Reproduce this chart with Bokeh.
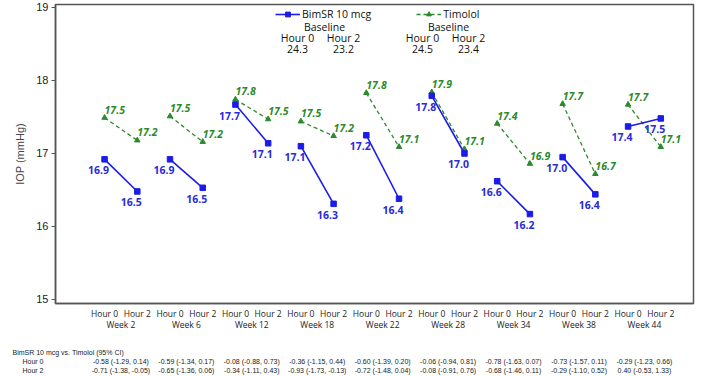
from bokeh.plotting import figure
from bokeh.layouts import column
from bokeh.models import (ColumnDataSource, Range1d, FixedTicker, LinearAxis,
                          CustomJSTickFormatter, Legend, LegendItem, Label)
from bokeh.core.properties import value
from bokeh.embed import file_html
from bokeh.resources import INLINE

weeks = ["Week 2", "Week 6", "Week 12", "Week 18", "Week 22", "Week 28", "Week 34", "Week 38", "Week 44"]
hours = ["Hour 0", "Hour 2"]
bim_h0 = [16.92, 16.92, 17.67, 17.10, 17.25, 17.79, 16.62, 16.95, 17.37]
bim_h2 = [16.48, 16.53, 17.14, 16.31, 16.38, 17.00, 16.17, 16.44, 17.48]
tim_h0 = [17.49, 17.51, 17.74, 17.44, 17.83, 17.84, 17.41, 17.68, 17.67]
tim_h2 = [17.18, 17.16, 17.47, 17.24, 17.09, 17.06, 16.86, 16.72, 17.09]
bim_h0_lbl = ["16.9", "16.9", "17.7", "17.1", "17.2", "17.8", "16.6", "17.0", "17.4"]
bim_h2_lbl = ["16.5", "16.5", "17.1", "16.3", "16.4", "17.0", "16.2", "16.4", "17.5"]
tim_h0_lbl = ["17.5", "17.5", "17.8", "17.5", "17.8", "17.9", "17.4", "17.7", "17.7"]
tim_h2_lbl = ["17.2", "17.2", "17.5", "17.2", "17.1", "17.1", "16.9", "16.7", "17.1"]
baseline_bim = ["24.3", "23.2"]
baseline_tim = ["24.5", "23.4"]
diff_title = "BimSR 10 mcg vs. Timolol (95% CI)"
diff_h0 = ["-0.58 (-1.29, 0.14)", "-0.59 (-1.34, 0.17)", "-0.08 (-0.88, 0.73)", "-0.36 (-1.15, 0.44)",
           "-0.60 (-1.39, 0.20)", "-0.06 (-0.94, 0.81)", "-0.78 (-1.63, 0.07)", "-0.73 (-1.57, 0.11)",
           "-0.29 (-1.23, 0.66)"]
diff_h2 = ["-0.71 (-1.38, -0.05)", "-0.65 (-1.36, 0.06)", "-0.34 (-1.11, 0.43)", "-0.93 (-1.73, -0.13)",
           "-0.72 (-1.48, 0.04)", "-0.08 (-0.91, 0.76)", "-0.68 (-1.46, 0.11)", "-0.29 (-1.10, 0.52)",
           "0.40 (-0.53, 1.33)"]

BLUE = "#1c1ce6"
BLUE_T = "#2a2ad8"
GREEN = "#2b8a2b"
FONT = "Open Sans"

W, H_MAIN, H_TAB = 718, 336, 40
LEFT, RIGHT = 55, 25
X0, X1 = -1.5, 18.0
unit = (W - LEFT - RIGHT) / (X1 - X0)

n = len(weeks)
x0 = [2 * i for i in range(n)]
x1 = [2 * i + 1 for i in range(n)]
xc = [2 * i + 0.5 for i in range(n)]

bim_seg = ColumnDataSource(dict(x0=x0, x1=x1, y0=bim_h0, y1=bim_h2))
tim_seg = ColumnDataSource(dict(x0=x0, x1=x1, y0=tim_h0, y1=tim_h2))
bim_pts = ColumnDataSource(dict(x=x0 + x1, y=bim_h0 + bim_h2, t=bim_h0_lbl + bim_h2_lbl))
tim_pts = ColumnDataSource(dict(x=x0 + x1, y=tim_h0 + tim_h2, t=tim_h0_lbl + tim_h2_lbl))

p = figure(width=W, height=H_MAIN, output_backend="svg", toolbar_location=None,
           x_range=Range1d(X0, X1), y_range=Range1d(14.945, 19.041),
           min_border_left=LEFT, min_border_right=RIGHT, min_border_top=4, min_border_bottom=33)
p.frame_align = False
p.xgrid.visible = False
p.ygrid.visible = False
p.outline_line_color = "#555555"
p.outline_line_width = 1.5
p.background_fill_color = "white"
p.border_fill_color = "white"

tr = p.segment("x0", "y0", "x1", "y1", source=tim_seg, line_color=GREEN, line_width=1.3, line_dash="4 3")
ts = p.scatter("x", "y", source=tim_pts, marker="triangle", size=5.5, color=GREEN)
br = p.segment("x0", "y0", "x1", "y1", source=bim_seg, line_color=BLUE, line_width=1.6)
bs = p.scatter("x", "y", source=bim_pts, marker="square", size=5.5, color=BLUE)

p.text("x", "y", text="t", source=tim_pts, text_color=GREEN, text_font=value(FONT),
       text_font_size="10.5px", text_font_style="bold italic", text_align="left",
       text_baseline="middle", x_offset=0, y_offset=-8)
p.text("x", "y", text="t", source=bim_pts, text_color=BLUE_T, text_font=value(FONT),
       text_font_size="10.5px", text_font_style="bold", text_align="center",
       text_baseline="middle", x_offset=-6, y_offset=11)

# y axis
p.yaxis.ticker = FixedTicker(ticks=[15, 16, 17, 18, 19])
p.yaxis.minor_tick_line_color = None
p.yaxis.major_tick_out = 4
p.yaxis.major_tick_in = 0
p.yaxis.major_tick_line_color = "#555555"
p.yaxis.axis_line_color = "#555555"
p.yaxis.axis_line_width = 1.5
p.yaxis.major_label_text_font = "Liberation Sans"
p.yaxis.major_label_text_font_size = "11px"
p.yaxis.major_label_text_color = "#222222"
p.yaxis.major_label_standoff = 3
p.yaxis.axis_label = "IOP (mmHg)"
p.yaxis.axis_label_text_font = "Liberation Sans"
p.yaxis.axis_label_text_font_size = "11px"
p.yaxis.axis_label_text_font_style = "normal"
p.yaxis.axis_label_text_color = "#444444"
p.yaxis.axis_label_standoff = 7

# x axis: hours
p.xaxis.ticker = FixedTicker(ticks=x0 + x1)
p.xaxis.formatter = CustomJSTickFormatter(args=dict(h=hours), code="return h[Math.round(tick) % 2];")
p.xaxis.major_tick_line_color = None
p.xaxis.major_tick_out = 0
p.xaxis.major_tick_in = 0
p.xaxis.minor_tick_line_color = None
p.xaxis.minor_tick_out = 0
p.xaxis.axis_line_color = "#555555"
p.xaxis.axis_line_width = 1.5
p.xaxis.major_label_text_font = FONT
p.xaxis.major_label_text_font_size = "8.5px"
p.xaxis.major_label_text_color = "#222222"
p.xaxis.major_label_standoff = 4
p.xaxis.axis_label_standoff = 0

wk_axis = LinearAxis(ticker=FixedTicker(ticks=xc),
                     formatter=CustomJSTickFormatter(args=dict(w=weeks),
                                                     code="return w[Math.round((tick - 0.5) / 2)];"),
                     axis_line_color=None, major_tick_line_color=None, minor_tick_line_color=None,
                     major_tick_out=0, major_tick_in=0, minor_tick_out=0, axis_label_standoff=0,
                     major_label_text_font=FONT, major_label_text_font_size="8.5px",
                     major_label_text_color="#222222", major_label_standoff=-3)
p.add_layout(wk_axis, "below")

# legend
legend = Legend(items=[LegendItem(label="BimSR 10 mcg", renderers=[br, bs]),
                       LegendItem(label="Timolol", renderers=[tr, ts])],
                orientation="horizontal", location=(220, 282),
                background_fill_alpha=0, border_line_color=None, padding=0, margin=0,
                spacing=45, glyph_width=25, glyph_height=12, label_standoff=2,
                label_text_font=FONT, label_text_font_size="10.5px", label_text_color="#111111",
                label_height=12)
p.add_layout(legend)

def lab(x, y, t):
    p.add_layout(Label(x=x, y=y, x_units="screen", y_units="screen", text=t, text_align="center",
                       text_baseline="middle", text_font=FONT, text_font_size="10.5px",
                       text_color="#111111"))

lab(269, 277, "Baseline")
lab(242, 266, hours[0]); lab(288, 266, hours[1])
lab(242, 255, baseline_bim[0]); lab(288, 255, baseline_bim[1])
lab(393, 277, "Baseline")
lab(367, 266, hours[0]); lab(413, 266, hours[1])
lab(367, 255, baseline_tim[0]); lab(413, 255, baseline_tim[1])

# difference table below the chart, aligned on the same x scale
t = figure(width=W, height=H_TAB, output_backend="svg", toolbar_location=None,
           x_axis_location=None, y_axis_location=None,
           x_range=Range1d(X0 - LEFT / unit, X1 + RIGHT / unit), y_range=Range1d(0, H_TAB),
           min_border=0, min_border_left=0, min_border_right=0, min_border_top=0, min_border_bottom=0)
t.frame_align = False
t.grid.visible = False
t.outline_line_color = None
t.background_fill_color = "white"
t.border_fill_color = "white"

tab_src = ColumnDataSource(dict(x=xc + xc, y=[15] * n + [6] * n, t=diff_h0 + diff_h2))
t.text("x", "y", text="t", source=tab_src, text_font=value("Liberation Sans"), text_font_size="7px",
       text_color="#222222", text_align="center", text_baseline="middle")
hdr_src = ColumnDataSource(dict(x=[X0 - (LEFT - 12) / unit, X0 - (LEFT - 22) / unit, X0 - (LEFT - 22) / unit],
                                y=[24, 15, 6], t=[diff_title, hours[0], hours[1]]))
t.text("x", "y", text="t", source=hdr_src, text_font=value("Liberation Sans"), text_font_size="7px",
       text_color="#222222", text_align="left", text_baseline="middle")

layout = column(p, t, spacing=0)
open("out.html", "w").write(file_html(layout, INLINE))
